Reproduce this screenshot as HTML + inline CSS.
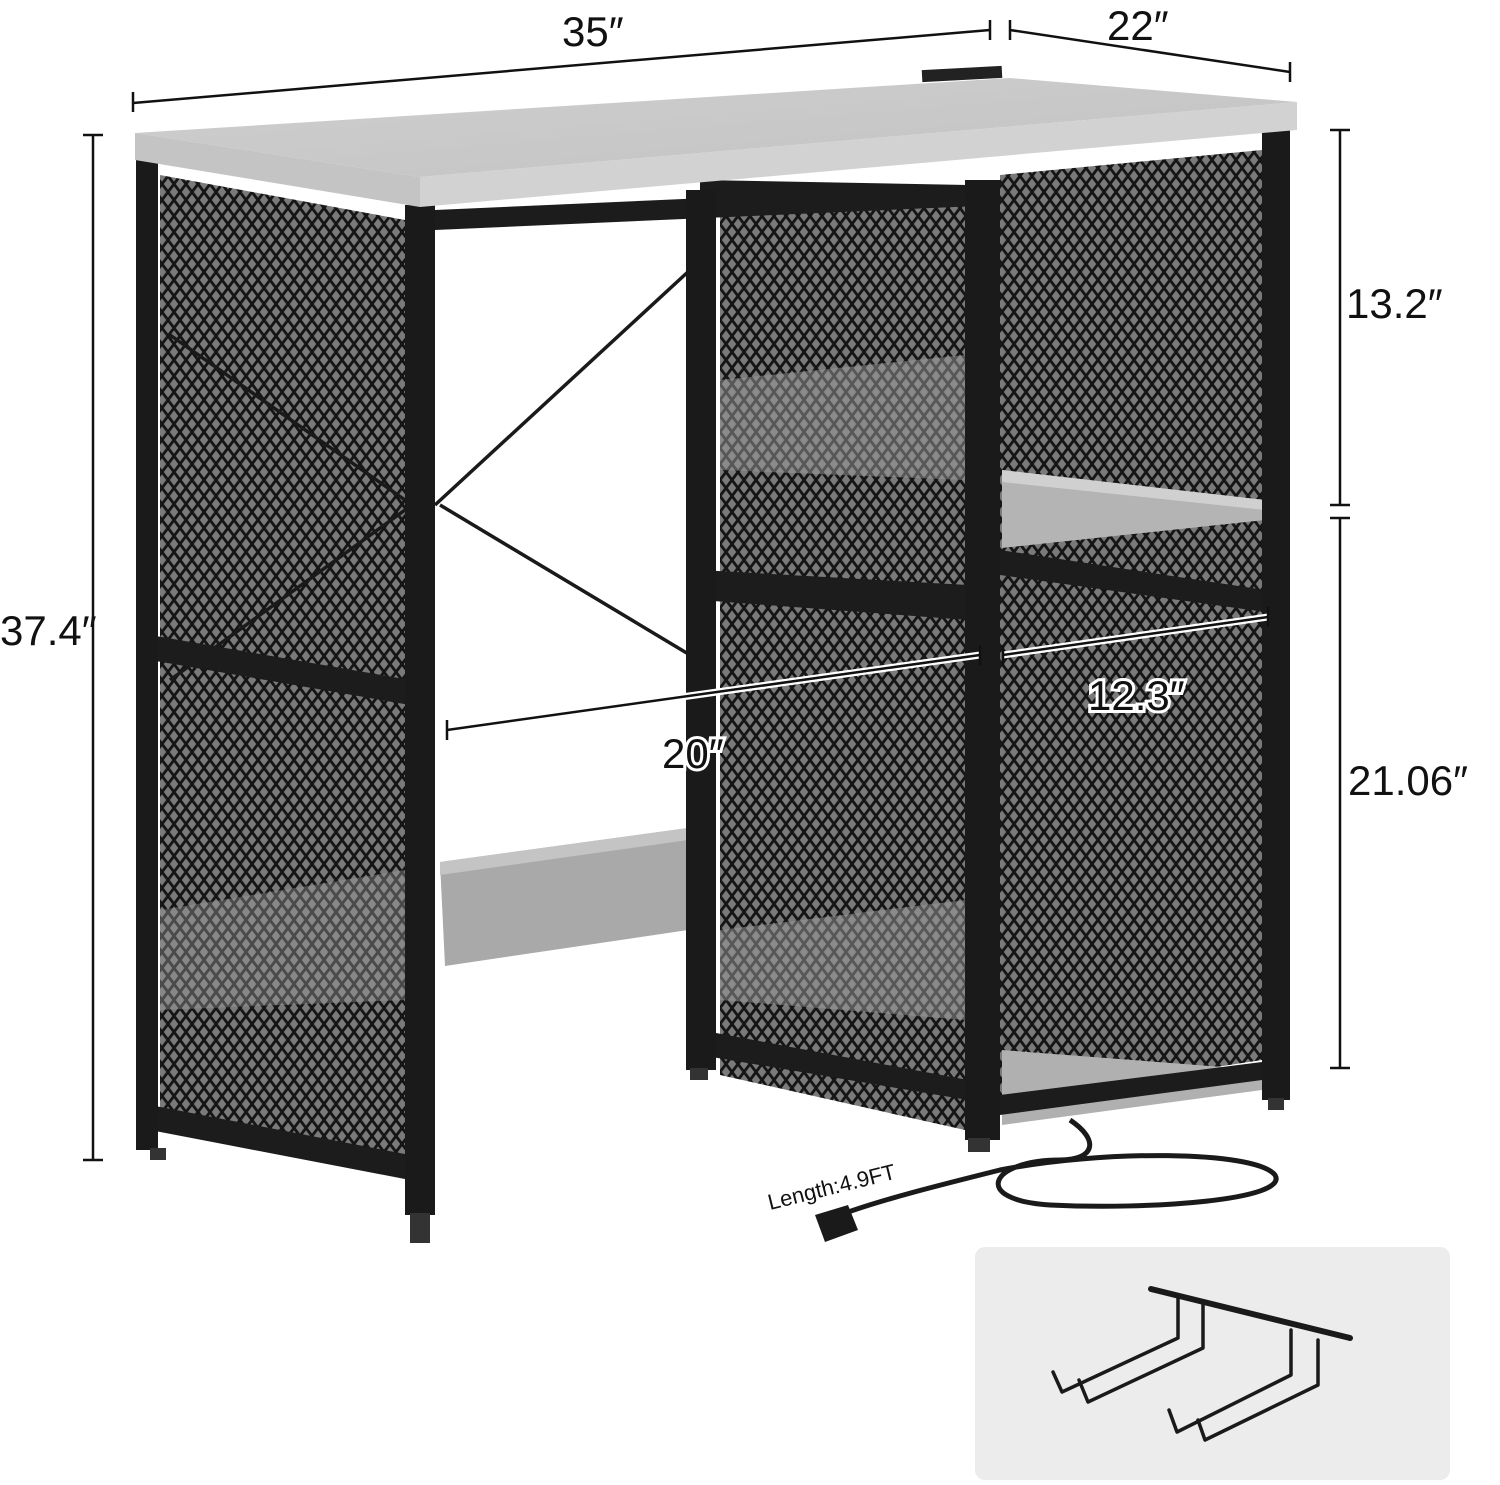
<!DOCTYPE html>
<html><head><meta charset="utf-8"><style>
html,body{margin:0;padding:0;background:#fff}
svg{display:block}
text{font-family:"Liberation Sans",sans-serif;fill:#111}
</style></head><body>
<svg width="1500" height="1485" viewBox="0 0 1500 1485" xmlns="http://www.w3.org/2000/svg">
<defs>
<pattern id="mesh" width="12" height="16" patternUnits="userSpaceOnUse">
<rect width="12" height="16" fill="#7a7a7a"/>
<path d="M0 0L12 16M12 0L0 16" stroke="#151515" stroke-width="2.8"/>
</pattern>
<linearGradient id="wood" x1="0" y1="0" x2="1" y2="1">
<stop offset="0" stop-color="#cfcfcf"/><stop offset="1" stop-color="#c2c2c2"/>
</linearGradient>
</defs>

<polygon points="160,175 405,220 405,1175 160,1130" fill="url(#mesh)"/>
<polygon points="720,200 965,190 965,1130 720,1075" fill="url(#mesh)"/>
<polygon points="1000,175 1262,150 1262,1060 1000,1100" fill="url(#mesh)"/>

<polygon points="720,380 965,355 965,480 720,470" fill="#9a9a9a" opacity="0.5"/>
<polygon points="720,930 965,900 965,1020 720,1000" fill="#9a9a9a" opacity="0.5"/>
<polygon points="160,910 405,870 405,1000 160,1010" fill="#9a9a9a" opacity="0.4"/>

<polygon points="440,862 688,828 688,930 445,966" fill="#a9a9a9"/>
<polygon points="440,862 688,828 688,840 440,875" fill="#c4c4c4"/>

<g stroke="#1a1a1a" stroke-width="3.5">
<line x1="435" y1="505" x2="690" y2="270"/>
<line x1="440" y1="505" x2="690" y2="655"/>
<line x1="170" y1="335" x2="405" y2="500"/>
<line x1="170" y1="680" x2="405" y2="510"/>
</g>

<polygon points="1002,470 1265,500 1265,520 1002,548" fill="#b4b4b4"/>
<polygon points="1002,470 1265,500 1265,510 1002,482" fill="#d0d0d0"/>
<polygon points="1002,1050 1262,1070 1262,1090 1002,1125" fill="#b0b0b0"/>

<g fill="#1c1c1c">
<polygon points="150,635 410,680 410,705 150,660"/>
<polygon points="150,1105 410,1155 410,1180 150,1130"/>
<polygon points="700,570 968,585 968,620 700,600"/>
<polygon points="700,1030 968,1080 968,1100 700,1055"/>
<polygon points="1000,550 1265,590 1265,612 1000,575"/>
<polygon points="1000,1095 1262,1062 1262,1080 1000,1115"/>
<polygon points="435,210 1000,185 1000,205 435,230"/>
<polygon points="700,180 968,185 968,205 700,210"/>
</g>

<g fill="#1a1a1a">
<rect x="136" y="155" width="22" height="995"/>
<rect x="405" y="205" width="30" height="1010"/>
<rect x="686" y="190" width="30" height="880"/>
<rect x="965" y="180" width="35" height="960"/>
<rect x="1262" y="120" width="28" height="980"/>
</g>
<g fill="#333">
<rect x="150" y="1148" width="16" height="12"/>
<rect x="410" y="1213" width="20" height="30"/>
<rect x="690" y="1068" width="18" height="12"/>
<rect x="968" y="1138" width="22" height="14"/>
<rect x="1268" y="1098" width="16" height="12"/>
</g>

<polygon points="135,133 1010,78 1297,102 420,177" fill="url(#wood)"/>
<polygon points="135,133 420,177 420,207 135,160" fill="#c4c4c4"/>
<polygon points="420,177 1297,102 1297,130 420,207" fill="#d2d2d2"/>
<rect x="922" y="68" width="80" height="12" fill="#222" transform="rotate(-3 962 74)"/>

<path d="M1070,1120 C1100,1140 1095,1160 1060,1160 C990,1160 970,1200 1050,1205 C1150,1210 1290,1200 1275,1175 C1255,1150 1100,1150 1000,1170 C940,1185 880,1200 840,1215" fill="none" stroke="#1a1a1a" stroke-width="5"/>
<polygon points="815,1215 848,1205 858,1230 825,1242" fill="#1a1a1a"/>

<g stroke="#111" stroke-width="2.5" fill="none">
<line x1="133" y1="103" x2="990" y2="30"/><line x1="133" y1="92" x2="133" y2="112"/><line x1="990" y1="20" x2="990" y2="40"/>
<line x1="1010" y1="30" x2="1290" y2="72"/><line x1="1010" y1="20" x2="1010" y2="40"/><line x1="1290" y1="62" x2="1290" y2="82"/>
<line x1="93" y1="135" x2="93" y2="1160"/><line x1="83" y1="135" x2="103" y2="135"/><line x1="83" y1="1160" x2="103" y2="1160"/>
<line x1="1340" y1="130" x2="1340" y2="505"/><line x1="1330" y1="130" x2="1350" y2="130"/><line x1="1330" y1="505" x2="1350" y2="505"/>
<line x1="1340" y1="518" x2="1340" y2="1068"/><line x1="1330" y1="518" x2="1350" y2="518"/><line x1="1330" y1="1068" x2="1350" y2="1068"/>
</g>
<g stroke="#fff" stroke-width="7" fill="none">
<line x1="447" y1="730" x2="980" y2="655"/>
<line x1="1003" y1="655" x2="1268" y2="617"/>
</g>
<g stroke="#111" stroke-width="2.5" fill="none">
<line x1="447" y1="730" x2="980" y2="655"/><line x1="447" y1="720" x2="447" y2="740"/><line x1="980" y1="645" x2="980" y2="665"/>
<line x1="1003" y1="655" x2="1268" y2="617"/><line x1="1003" y1="645" x2="1003" y2="665"/><line x1="1268" y1="607" x2="1268" y2="627"/>
</g>

<g font-size="42">
<text x="562" y="46">35″</text>
<text x="1107" y="40">22″</text>
<text x="0" y="645">37.4″</text>
<text x="1346" y="318">13.2″</text>
<text x="1348" y="795">21.06″</text>
<text x="662" y="768" stroke="#fff" stroke-width="6" paint-order="stroke">20″</text>
<text x="1088" y="710" stroke="#fff" stroke-width="6" paint-order="stroke">12.3″</text>
</g>
<text x="770" y="1210" font-size="22" transform="rotate(-14 770 1210)">Length:4.9FT</text>

<rect x="975" y="1247" width="475" height="233" rx="10" fill="#ececec"/>
<g stroke="#1a1a1a" fill="none" stroke-linejoin="round" stroke-linecap="round">
<line x1="1151" y1="1289" x2="1350" y2="1338" stroke-width="6"/>
<g stroke-width="3.5">
<path d="M1178,1298 L1178,1338 L1062,1392 L1053,1372"/>
<path d="M1203,1305 L1203,1348 L1088,1402 L1079,1380"/>
<path d="M1291,1330 L1291,1375 L1177,1432 L1169,1410"/>
<path d="M1318,1340 L1318,1385 L1205,1440 L1198,1420"/>
</g>
</g>
</svg>
</body></html>
